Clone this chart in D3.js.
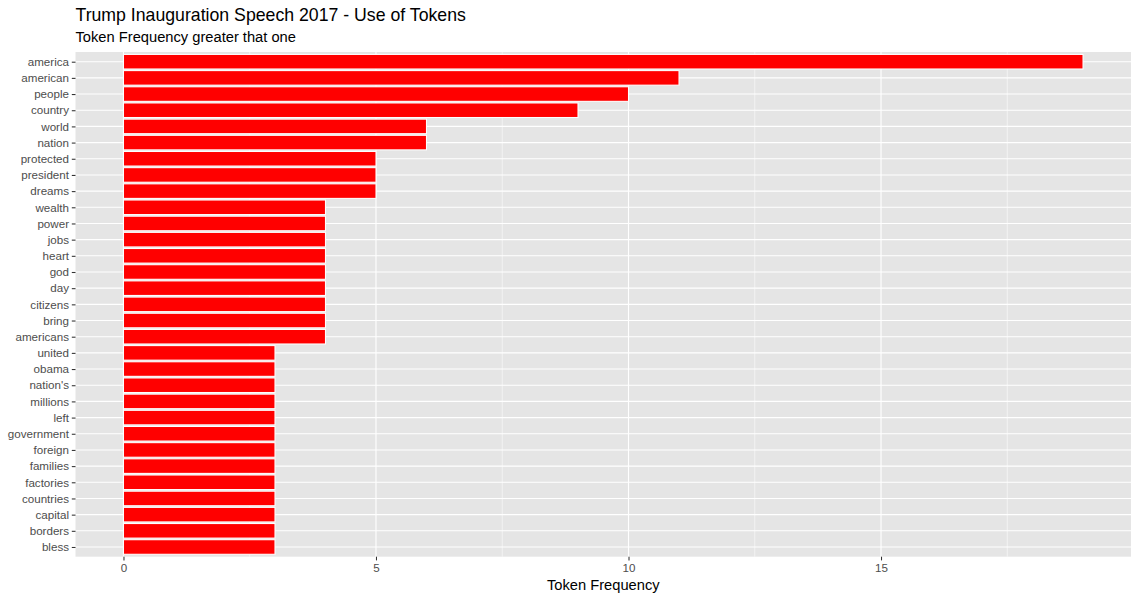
<!DOCTYPE html>
<html>
<head>
<meta charset="utf-8">
<script src="https://cdn.jsdelivr.net/npm/d3@7"></script>
<style>
  body { margin: 0; background: #fff; }
  svg text { font-family: "Liberation Sans", Arial, sans-serif; }
</style>
</head>
<body>
<svg width="1139" height="599"></svg>
<script>
// tokens, top to bottom as in the chart
const tokens = ['america', 'american', 'people', 'country', 'world', 'nation',
  'protected', 'president', 'dreams', 'wealth', 'power', 'jobs', 'heart', 'god',
  'day', 'citizens', 'bring', 'americans', 'united', 'obama', "nation's",
  'millions', 'left', 'government', 'foreign', 'families', 'factories',
  'countries', 'capital', 'borders', 'bless'];
const counts = [19, 11, 10, 9, 6, 6, 5, 5, 5, 4, 4, 4, 4, 4, 4, 4, 4, 4,
  3, 3, 3, 3, 3, 3, 3, 3, 3, 3, 3, 3, 3];
const xTicks = [0, 5, 10, 15];
const xMinor = [2.5, 7.5, 12.5, 17.5];

const svg = d3.select('svg');

const panel = { left: 75.5, right: 1131, top: 52, bottom: 556.7 };

const maxVal = d3.max(counts);
const x = d3.scaleLinear()
  .domain([-0.05 * maxVal, maxVal * 1.05])
  .range([panel.left, panel.right]);

const n = tokens.length;
const step = (panel.bottom - panel.top) / (n - 1 + 1.2);
const y = d3.scalePoint()
  .domain(tokens)
  .range([panel.top + 0.6 * step, panel.bottom - 0.6 * step]);

// titles
svg.append('text')
  .attr('x', panel.left)
  .attr('y', 20.5)
  .attr('font-size', 17.7)
  .attr('fill', '#000')
  .text('Trump Inauguration Speech 2017 - Use of Tokens');

svg.append('text')
  .attr('x', panel.left)
  .attr('y', 41.5)
  .attr('font-size', 14.7)
  .attr('fill', '#000')
  .text('Token Frequency greater that one');

// panel background
svg.append('rect')
  .attr('x', panel.left)
  .attr('y', panel.top)
  .attr('width', panel.right - panel.left)
  .attr('height', panel.bottom - panel.top)
  .attr('fill', '#e5e5e5');

const grid = svg.append('g');

grid.selectAll('line.minor')
  .data(xMinor)
  .join('line')
  .attr('x1', d => x(d)).attr('x2', d => x(d))
  .attr('y1', panel.top).attr('y2', panel.bottom)
  .attr('stroke', '#fff')
  .attr('stroke-width', 0.55);

grid.selectAll('line.major')
  .data(xTicks)
  .join('line')
  .attr('x1', d => x(d)).attr('x2', d => x(d))
  .attr('y1', panel.top).attr('y2', panel.bottom)
  .attr('stroke', '#fff')
  .attr('stroke-width', 1.1);

grid.selectAll('line.hgrid')
  .data(tokens)
  .join('line')
  .attr('x1', panel.left).attr('x2', panel.right)
  .attr('y1', d => y(d)).attr('y2', d => y(d))
  .attr('stroke', '#fff')
  .attr('stroke-width', 1.1);

// bars
const barH = step * 0.9;
svg.append('g')
  .selectAll('rect')
  .data(tokens)
  .join('rect')
  .attr('x', x(0))
  .attr('y', d => y(d) - barH / 2)
  .attr('width', (d, i) => x(counts[i]) - x(0))
  .attr('height', barH)
  .attr('fill', '#ff0000')
  .attr('stroke', '#fff')
  .attr('stroke-width', 1.07);

// axes
const xAxis = svg.append('g')
  .attr('transform', `translate(0,${panel.bottom})`)
  .call(d3.axisBottom(x).tickValues(xTicks).tickSize(3.7).tickPadding(3));

const yAxis = svg.append('g')
  .attr('transform', `translate(${panel.left},0)`)
  .call(d3.axisLeft(y).tickSize(3.7).tickPadding(2.8));

[xAxis, yAxis].forEach(a => {
  a.select('.domain').remove();
  a.selectAll('.tick line').attr('stroke', '#333').attr('stroke-width', 1.07);
  a.selectAll('.tick text')
    .attr('fill', '#4d4d4d')
    .attr('font-size', 11.6)
    .attr('font-family', '"Liberation Sans", Arial, sans-serif');
});

svg.append('text')
  .attr('x', (panel.left + panel.right) / 2)
  .attr('y', 589.5)
  .attr('text-anchor', 'middle')
  .attr('font-size', 14.7)
  .attr('fill', '#000')
  .text('Token Frequency');
</script>
</body>
</html>
